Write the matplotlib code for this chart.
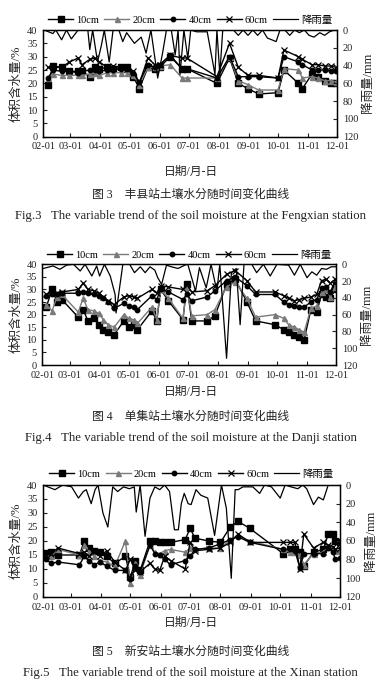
import numpy as np
import matplotlib
matplotlib.use('Agg')
from matplotlib import pyplot as plt

plt.rcParams['font.family'] = ['Liberation Serif', 'Noto Sans CJK SC']
plt.rcParams['axes.unicode_minus'] = False

# x 轴: 从 2 月 1 日起算的天数
tick_days = [0, 28, 59, 89, 120, 150, 181, 212, 242, 273, 303]
tick_labels = ['02-01', '03-01', '04-01', '05-01', '06-01', '07-01',
               '08-01', '09-01', '10-01', '11-01', '12-01']
series_names = ['10cm', '20cm', '40cm', '60cm', '降雨量']

# 图3 丰县站
fx_day = [5, 10, 19, 27, 36, 40, 48, 53, 58, 66, 72, 80, 86, 93, 99, 108, 115, 120,
          131, 143, 148, 179, 192, 201, 211, 222, 242, 248, 263, 267, 277, 283, 290, 297, 302]
fx_10 = [19.5, 26.5, 26, 24.5, 24.5, 24.5, 22.5, 26, 25.5, 26, 25.5, 26, 26, 22.5, 18, 26, 25.5, 26,
         30, 25.5, 25.5, 20, 29.5, 20, 18, 16, 16.5, 25, 20, 18, 23.5, 22.5, 21, 20, 20]
fx_20 = [22, 23.5, 23, 23, 23, 23, 23.5, 24, 23, 24, 24, 24, 24, 23, 19.5, 26, 26, 26.5,
         27, 22, 22, 22, 30, 21, 19.5, 17.5, 17.5, 25.5, 25, 22, 22.5, 22, 21, 21, 20.5]
fx_40 = [22, 25, 24.5, 24.5, 24, 24.5, 25, 25, 24.5, 25, 25, 25.5, 25.5, 24, 20.5, 27, 26, 27,
         30.5, 25.5, 25.5, 22, 30, 22.5, 22.5, 22.5, 22, 30, 28, 27, 25, 25, 25, 24.5, 24.5]
fx_60 = [26, 26, 26, 28, 29.5, 27, 29, 29.5, 28, 26, 26.5, 26, 25.5, 24.5, 20, 29.5, 27, 27,
         30.5, 29.5, 29.5, 22.5, 35, 26, 23, 23, 22, 32.5, 30, 29, 27, 27, 26.5, 26.5, 26]
fx_rain_day = [1, 10, 13, 19, 24, 29, 36, 46, 48, 51, 56, 60, 63, 68, 72, 78, 82, 86, 94, 101,
               106, 111, 118, 123, 127, 132, 136, 139, 141, 145, 149, 152, 158, 169, 177, 179, 182, 185, 190, 196,
               201, 206, 211, 216, 221, 226, 231, 240, 244, 249, 254, 259, 264, 269, 274, 279, 285, 290, 295, 300, 303]
fx_rain = [0, 4, 0, 11, 0, 10, 0, 0, 22, 0, 36, 17, 0, 36, 0, 0, 13, 3, 15, 8,
           26, 0, 54, 26, 0, 0, 28, 0, 50, 0, 32, 0, 2, 2, 50, 0, 50, 0, 0, 0,
           6, 0, 6, 0, 6, 0, 9, 13, 0, 0, 6, 0, 3, 0, 6, 8, 3, 6, 2, 0, 0]

# 图4 单集站
dj_day = [4, 10, 15, 20, 37, 42, 47, 53, 58, 63, 68, 74, 84, 89, 94, 98, 113, 118, 122, 130, 145,
          149, 154, 170, 178, 190, 199, 211, 220, 240, 249, 254, 260, 265, 270, 277, 283, 288, 293, 297, 302]
dj_10 = [23, 30, 25, 26, 19, 22, 17.5, 18.5, 16, 14, 13, 12, 17.5, 15, 16, 14, 21.5, 17.5, 30, 25.5, 18,
         32, 17.5, 17.5, 19.5, 32, 34, 25, 17.5, 16, 14, 13, 12, 11, 10, 22, 21, 28, 27, 26.5, 30]
dj_20 = [24, 21.5, 27, 28, 21, 26.5, 22, 21.5, 20.5, 18, 16, 15, 20, 18.5, 18, 16.5, 23, 18, 30, 26.5, 18.5,
         31, 19.5, 20, 22, 31, 33, 26.5, 19, 20, 18.5, 16, 15, 14, 13, 22.5, 23.5, 29, 30, 27, 31]
dj_40 = [27.5, 28, 28, 28.5, 28.5, 29, 28.5, 28, 27.5, 26.5, 25, 22.5, 24.5, 23.5, 23, 22, 27.5, 26, 30, 29, 26,
         28, 25.5, 27, 29.5, 33.5, 35, 31.5, 28, 28, 25, 24, 23.5, 23, 23, 25, 26, 30.5, 31, 29, 33]
dj_60 = [28, 29, 28.5, 29, 30, 32.5, 30, 29.5, 28.5, 27, 25.5, 24, 27, 27.5, 27, 26.5, 30, 28.5, 31.5, 31, 30,
         32, 29, 29.5, 31.5, 36, 37.5, 33.5, 29, 29, 27.5, 26.5, 25.5, 26, 26.5, 27, 28, 33.5, 34, 32.5, 34]
dj_rain_day = [1, 11, 18, 25, 32, 39, 44, 51, 56, 59, 64, 70, 75, 76, 83, 90, 95, 101, 106, 111,
               116, 119, 123, 128, 133, 140, 147, 150, 158, 162, 169, 174, 180, 183, 190, 195, 200, 204, 208, 216,
               221, 228, 235, 242, 254, 260, 266, 273, 278, 283, 288, 293, 298, 303]
dj_rain = [5, 2, 6, 1, 0, 8, 0, 14, 2, 14, 0, 14, 36, 58, 0, 0, 10, 3, 10, 3,
           7, 16, 24, 1, 3, 5, 1, 0, 32, 4, 28, 0, 32, 0, 112, 10, 5, 72, 0, 0,
           10, 0, 14, 0, 1, 13, 0, 16, 9, 13, 5, 6, 3, 3]

# 图5 新安站
xa_day = [3, 8, 15, 37, 42, 47, 52, 58, 65, 73, 84, 89, 94, 99, 109, 114, 119, 124, 130,
          145, 150, 155, 169, 181, 191, 199, 211, 245, 252, 257, 262, 266, 276, 286, 291, 296, 298, 303]
xa_10 = [15.8, 16, 15, 15, 20, 17.5, 16.5, 16, 14.5, 12, 14.5, 7, 13, 9.5, 20, 20, 19.5, 19.5, 19.5,
         20.5, 24.5, 21, 20, 19.5, 25, 27, 24.5, 15.5, 17, 17, 16, 11, 16, 17, 22.5, 22.5, 20, 19.5]
xa_20 = [14.5, 14.5, 17, 15, 18.5, 16, 14.5, 13, 12.5, 11, 20, 5, 12, 8, 18.5, 16, 15.5, 16.5, 17,
         16, 17.5, 17, 17.5, 17.5, 20.5, 22, 20, 17, 16, 16, 15, 11.5, 15.5, 16, 18, 17, 16.5, 16.5]
xa_40 = [13.5, 12, 12.5, 11.5, 14.5, 13, 11.5, 12.5, 11, 9.5, 9.5, 6.5, 11, 9, 18.5, 15.5, 15, 13.5, 11.5,
         13, 14.5, 17, 17.5, 19, 20.5, 21.5, 19.5, 17, 17, 16.5, 10.5, 15.5, 15.5, 15.5, 17.5, 16, 13.5, 14]
xa_60 = [15, 15.5, 17.5, 15.5, 16, 14.5, 16.5, 14.5, 16.5, 12.5, 9.5, 13.5, 9.5, 9, 12, 10, 9.5, 14.5, 13,
         10, 19.5, 16.5, 17, 17.5, 19.5, 22.5, 19.5, 19.5, 19.5, 19.5, 10, 22.5, 17.5, 19.5, 18.5, 18, 17, 17.5]
xa_rain_day = [0, 12, 20, 29, 36, 41, 44, 49, 53, 56, 61, 66, 71, 76, 82, 88, 93, 95, 99, 104,
               109, 114, 119, 124, 129, 134, 138, 141, 144, 148, 151, 156, 161, 168, 175, 182, 187, 192, 196, 199,
               204, 214, 221, 226, 233, 242, 247, 253, 260, 265, 269, 276, 281, 286, 291, 298, 303]
xa_rain = [0, 5, 0, 2, 14, 7, 5, 20, 5, 0, 30, 45, 2, 7, 2, 4, 2, 29, 0, 55,
           14, 2, 5, 0, 7, 48, 48, 20, 9, 20, 21, 5, 11, 14, 54, 0, 25, 100, 5, 5,
           2, 2, 9, 0, 2, 14, 0, 2, 4, 0, 4, 21, 13, 16, 0, 0, 0]

fig = plt.figure(figsize=(3.89, 6.90), dpi=100)
tc = '#222222'


def panel(rect, day, v10, v20, v40, v60, rd, rv, leg_y, ylab_y, cap_y, cn, en):
    ax = fig.add_axes(rect)
    lw = 1.0
    h1, = ax.plot(day, v10, '-s', color='black', lw=lw, ms=4.2)
    h2, = ax.plot(day, v20, '-^', color='#7a7a7a', lw=lw, ms=3.6)
    h3, = ax.plot(day, v40, '-o', color='black', lw=lw, ms=3.2)
    h4, = ax.plot(day, v60, '-x', color='black', lw=lw, ms=4.0, mew=0.9)
    ax.set_xlim(0, 303)
    ax.set_ylim(0, 40)
    ax.set_yticks(range(0, 41, 5))
    ax.set_xticks(tick_days)
    ax.set_xticklabels(tick_labels)
    ax.tick_params(direction='in', labelsize=7.5, length=3, width=0.8, colors=tc, pad=4)
    for s in ax.spines.values():
        s.set_linewidth(1.0)
    ax2 = ax.twinx()
    h5, = ax2.plot(rd, rv, '-', color='black', lw=0.9)
    ax2.set_ylim(120, 0)
    ax2.set_yticks(range(0, 121, 20))
    ax2.tick_params(direction='in', labelsize=7.5, length=3, width=0.8, colors=tc, pad=4)
    ax.set_ylabel('体积含水量/%', fontsize=9, color=tc, labelpad=3)
    ax2.set_ylabel('降雨量/mm', fontsize=9, color=tc, labelpad=3)
    fig.legend([h1, h2, h3, h4, h5], series_names, loc='center',
               bbox_to_anchor=(rect[0] + rect[2] / 2, 1 - leg_y / 690), ncol=5, frameon=False,
               fontsize=7.5, handlelength=2.4, handletextpad=0.3, columnspacing=0.5, borderaxespad=0)
    fig.text(0.49, 1 - ylab_y / 690, '日期/月-日', ha='center', va='center', fontsize=8.5, color=tc)
    fig.text(0.49, 1 - cap_y / 690, cn, ha='center', va='center', fontsize=8.5, color=tc)
    fig.text(0.49, 1 - (cap_y + 21) / 690, en, ha='center', va='center', fontsize=9.2, color=tc)


panel([0.111, 0.8019, 0.756, 0.1546], fx_day, fx_10, fx_20, fx_40, fx_60, fx_rain_day, fx_rain,
      20, 172, 195, '图 3    丰县站土壤水分随时间变化曲线',
      'Fig.3   The variable trend of the soil moisture at the Fengxian station')
panel([0.109, 0.471, 0.755, 0.146], dj_day, dj_10, dj_20, dj_40, dj_60, dj_rain_day, dj_rain,
      255, 392, 417, '图 4    单集站土壤水分随时间变化曲线',
      'Fig.4   The variable trend of the soil moisture at the Danji station')
panel([0.111, 0.1348, 0.763, 0.1623], xa_day, xa_10, xa_20, xa_40, xa_60, xa_rain_day, xa_rain,
      474, 623, 652, '图 5    新安站土壤水分随时间变化曲线',
      'Fig.5   The variable trend of the soil moisture at the Xinan station')

plt.savefig('out.png', dpi=100)
